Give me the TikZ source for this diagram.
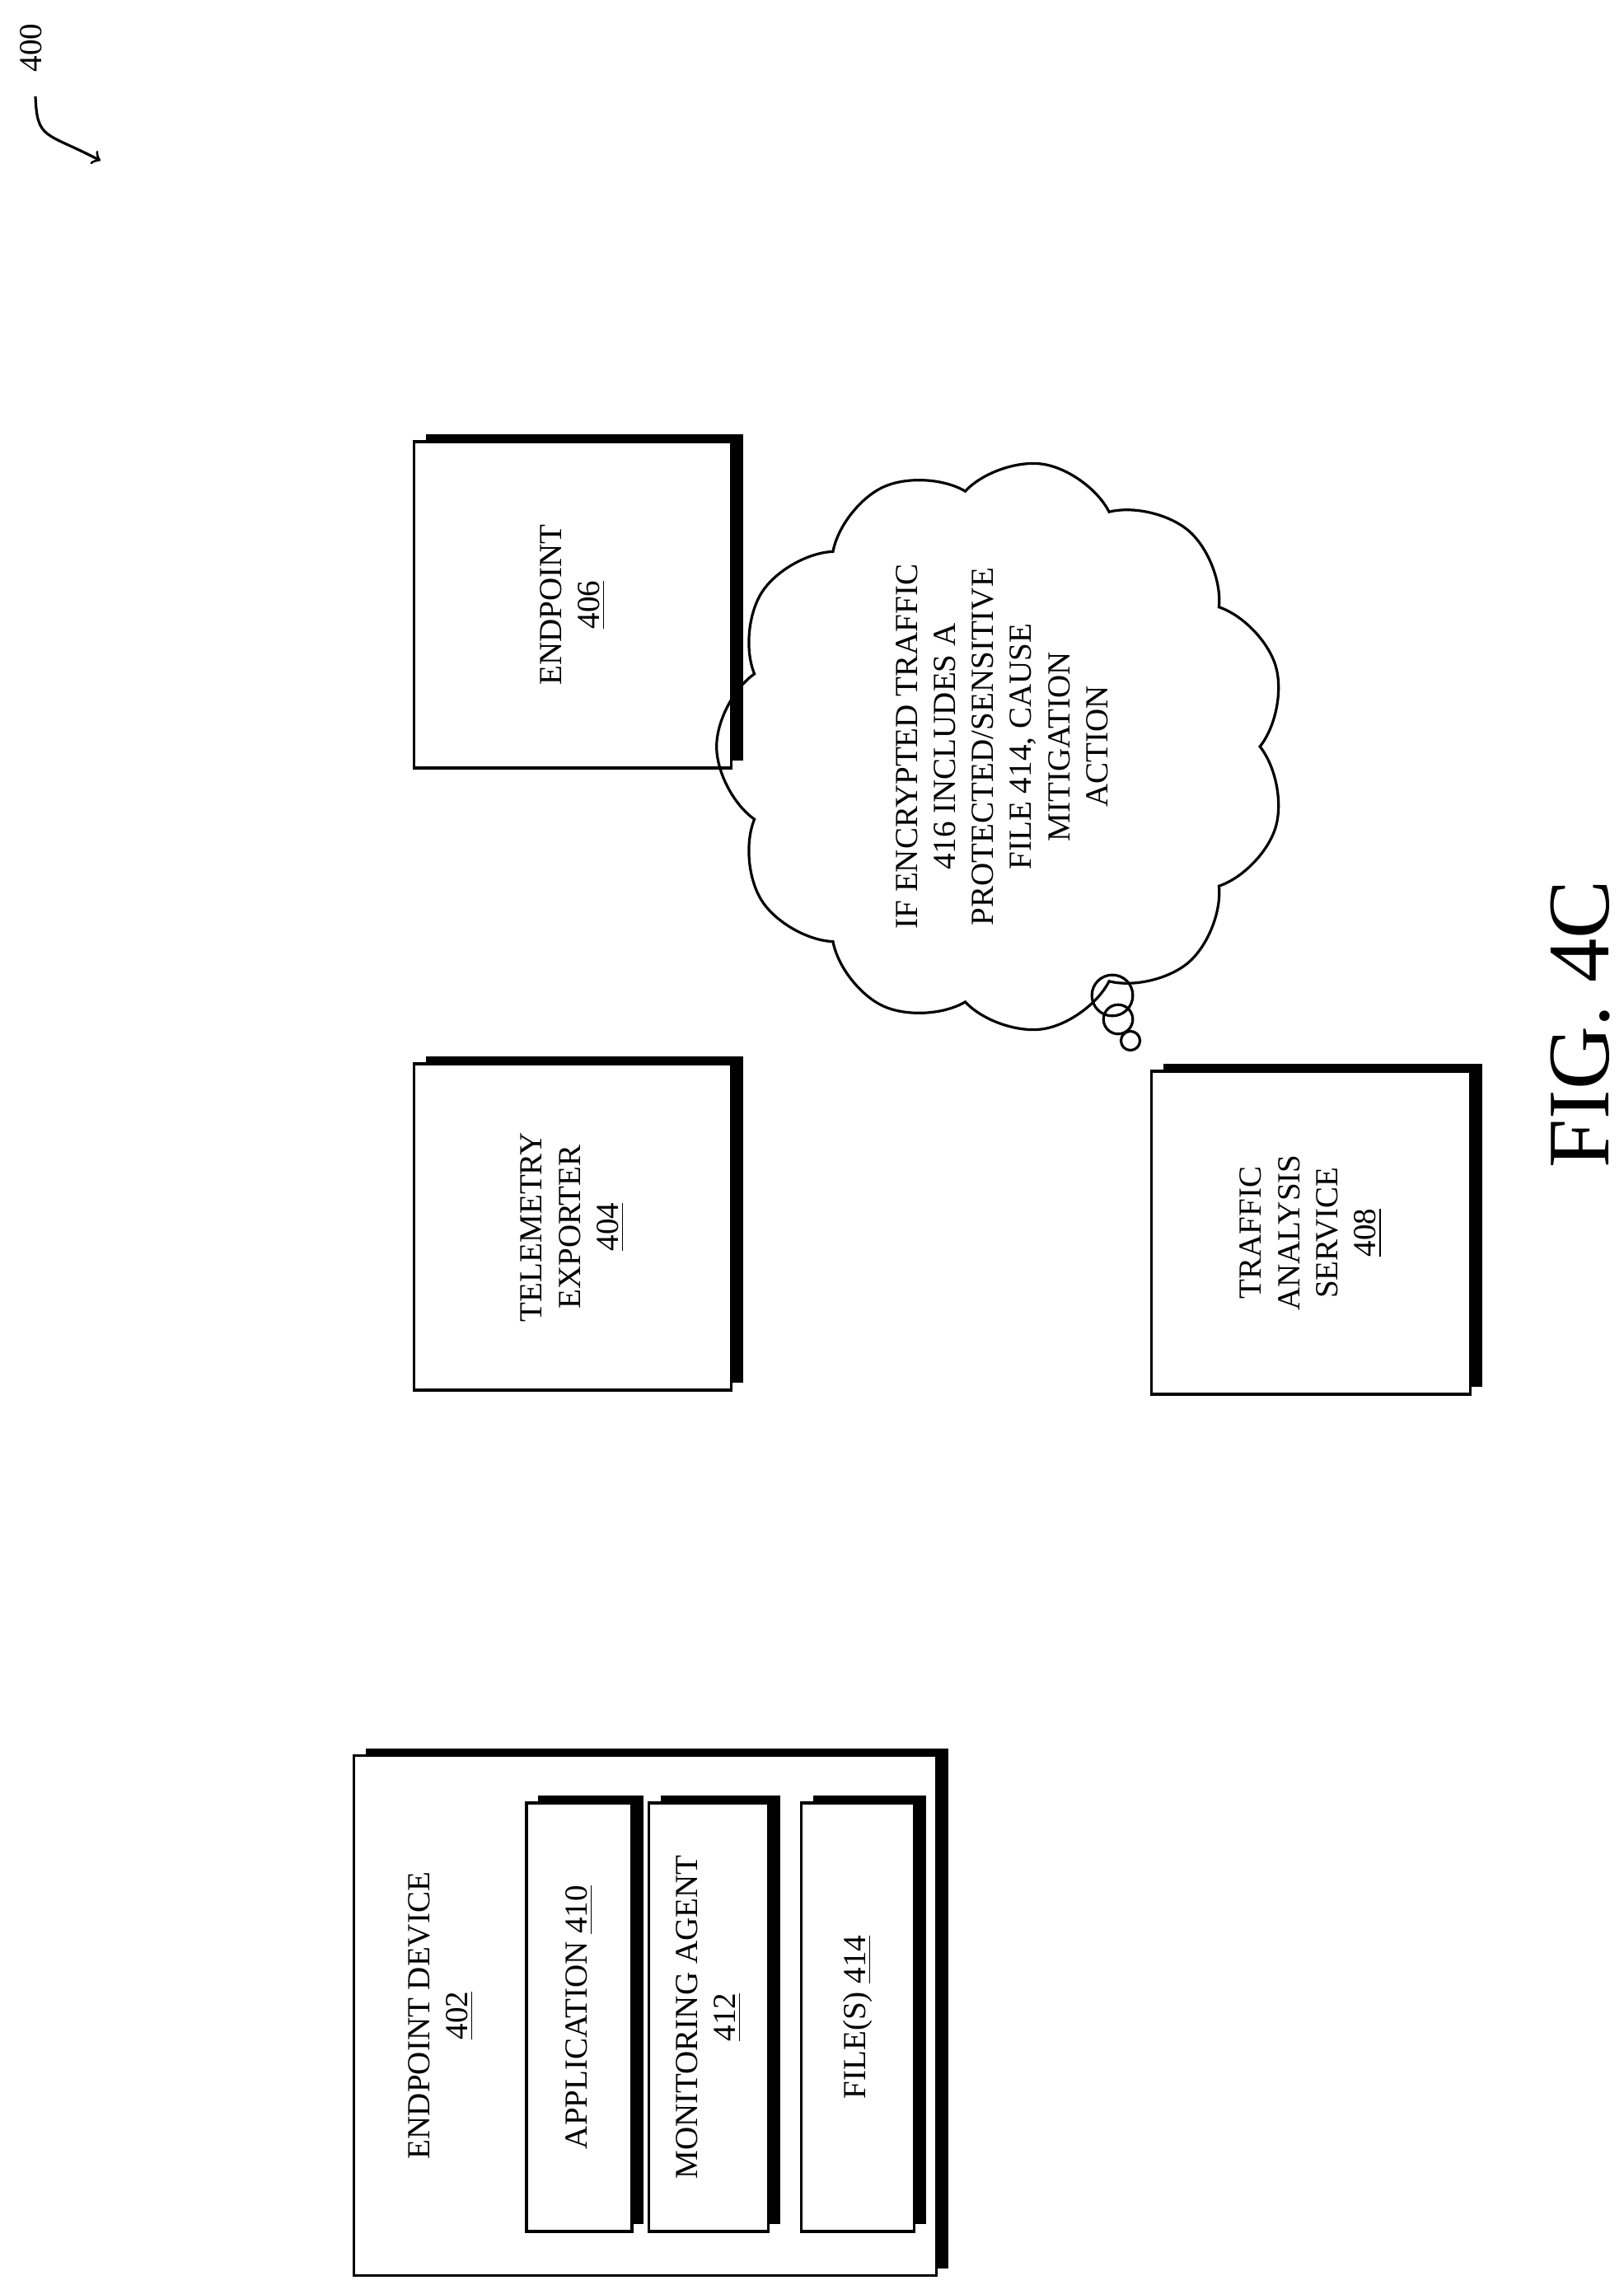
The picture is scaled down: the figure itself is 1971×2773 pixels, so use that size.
\documentclass[tikz,border=0pt]{standalone}
\usepackage{fontspec}
\setmainfont{Liberation Serif}
\usetikzlibrary{shadows,shapes.symbols}

\tikzset{
  box/.style={draw, line width=1pt, fill=white, rotate=90, align=center,
    general shadow={fill=black, shadow xshift=4pt, shadow yshift=2.5pt}},
  bubble/.style={draw, line width=0.9pt, circle, inner sep=0pt}
}

\begin{document}
\begin{tikzpicture}[x=0.2816pt, y=-0.2816pt, font=\fontsize{11}{13}\selectfont]
            \useasboundingbox (0,0) rectangle (1971,2773);

            \node[rotate=90] (lbl) at (38,58) {400};
            \coordinate (a1) at (43,117);
            \coordinate (a2) at (122,195);
            \draw[->, line width=0.9pt] (a1) .. controls (45,170) and (55,160) .. (a2);

            \node[box, minimum width=177.7pt, minimum height=199pt] (dev) at (783,2446) {};
            \node[rotate=90, align=center] (devlbl) at (535,2446) {ENDPOINT DEVICE\\\underline{402}};
            \node[box, minimum width=146.4pt, minimum height=36pt] (app) at (703,2448) {APPLICATION \underline{410}};
            \node[box, minimum width=146.4pt, minimum height=40.8pt] (mon) at (860,2448) {MONITORING AGENT\\\underline{412}};
            \node[box, minimum width=146.4pt, minimum height=38.6pt] (file) at (1041,2448) {FILE(S) \underline{414}};

            \node[box, minimum width=111.5pt, minimum height=108.4pt] (tel) at (695,1489) {TELEMETRY\\EXPORTER\\\underline{404}};
            \node[box, minimum width=111.5pt, minimum height=108.4pt] (ep) at (695,734) {ENDPOINT\\\underline{406}};
            \node[box, minimum width=110.4pt, minimum height=109pt] (tas) at (1591,1496) {TRAFFIC\\ANALYSIS\\SERVICE\\\underline{408}};

            \node[cloud, draw, line width=0.9pt, rotate=90, align=center, cloud puffs=11, cloud puff arc=110,
              inner sep=0pt, minimum width=195pt, minimum height=145pt] (thought) at (1216,906)
              {IF ENCRYPTED TRAFFIC\\416 INCLUDES A\\PROTECTED/SENSITIVE\\FILE 414, CAUSE\\MITIGATION\\ACTION};
            \node[bubble, minimum size=14pt] (b1) at (1350,1208) {};
            \node[bubble, minimum size=10pt] (b2) at (1357,1237) {};
            \node[bubble, minimum size=6.5pt] (b3) at (1372,1263) {};

            \node[rotate=90, font=\fontsize{30}{32}\selectfont] (fig) at (1918,1243) {FIG. 4C};
        \end{tikzpicture}
\end{document}
